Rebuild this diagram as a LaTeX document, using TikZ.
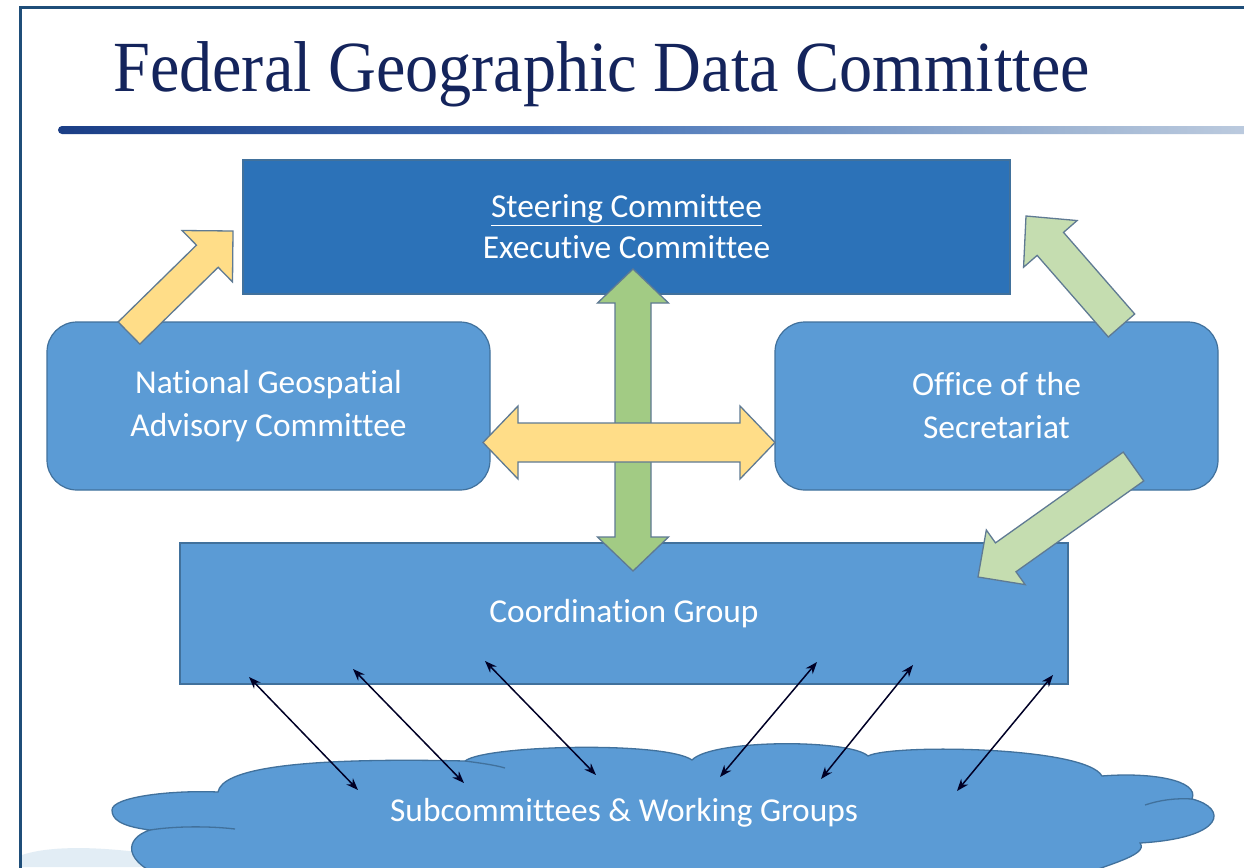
\documentclass[tikz,border=0pt]{standalone}
\usepackage{fontspec}
\setmainfont{Liberation Serif}
\newfontfamily\bodyfont[Ligatures=NoCommon]{Carlito}
\usetikzlibrary{calc,arrows.meta}
\definecolor{boxblue}{HTML}{5B9BD5}
\definecolor{steerblue}{HTML}{2C72B8}
\definecolor{edgeblue}{HTML}{41719C}
\definecolor{titlenavy}{HTML}{14245C}
\definecolor{framenavy}{HTML}{1F4E79}
\definecolor{yelfill}{HTML}{FFDD88}
\definecolor{greenV}{HTML}{A2CB84}
\definecolor{greenL}{HTML}{C5DDB0}
\definecolor{arredge}{HTML}{5F7A93}
\definecolor{swoosh}{HTML}{E2EDF5}
\definecolor{bar1}{HTML}{10286A}
\definecolor{bar2}{HTML}{1B3E86}
\definecolor{bar3}{HTML}{3E6DB5}
\definecolor{bar4}{HTML}{A3B8D4}
\definecolor{bar5}{HTML}{E3E8EF}
\pgfdeclarehorizontalshading{titlebar}{100bp}{color(0bp)=(bar1); color(25bp)=(bar2); color(45bp)=(bar3); color(68bp)=(bar4); color(86bp)=(bar5); color(100bp)=(white)}
\newcommand{\blockarr}[6]{%
  \coordinate (bhA) at ($(#3)!#6!(#2)$);
  \draw[#1] ($(#2)!#4!90:(#3)$) -- ($(bhA)!#4!90:(#3)$) -- ($(bhA)!#5!90:(#3)$) -- (#3)
    -- ($(bhA)!#5!-90:(#3)$) -- ($(bhA)!#4!-90:(#3)$) -- ($(#2)!#4!-90:(#3)$) -- cycle;}
\newcommand{\dblarr}[6]{%
  \coordinate (dbA) at ($(#2)!#6!(#3)$);
  \coordinate (dbB) at ($(#3)!#6!(#2)$);
  \draw[#1] (#2) -- ($(dbA)!#5!90:(#3)$) -- ($(dbA)!#4!90:(#3)$) -- ($(dbB)!#4!90:(#3)$)
    -- ($(dbB)!#5!90:(#3)$) -- (#3) -- ($(dbB)!#5!-90:(#3)$) -- ($(dbB)!#4!-90:(#3)$)
    -- ($(dbA)!#4!-90:(#3)$) -- ($(dbA)!#5!-90:(#3)$) -- cycle;}
\tikzset{
  box/.style={draw=edgeblue, line width=1.2pt, fill=boxblue, text=white, align=center, inner sep=0pt,
    font=\bodyfont\fontsize{33.4}{43}\selectfont},
  yelarrow/.style={draw=arredge, line width=1.3pt, fill=yelfill, line join=miter},
  greenVarrow/.style={draw=arredge, line width=1.3pt, fill=greenV, line join=miter},
  greenLarrow/.style={draw=arredge, line width=1.3pt, fill=greenL, line join=miter},
  thinarr/.style={draw=black!85!blue, line width=1.5pt, {Stealth[length=12pt,width=9pt]}-{Stealth[length=12pt,width=9pt]}},
  cloudshape/.style={draw=edgeblue, line width=1.3pt, fill=boxblue},
  cloudline/.style={draw=edgeblue, line width=1.3pt},
}
\begin{document}
\begin{tikzpicture}[x=1pt,y=1pt]
\useasboundingbox (0,0) rectangle (1244,-867);
\clip (0,0) rectangle (1244,-867);
\fill[white] (0,0) rectangle (1244,-867);
% frame
\draw[framenavy, line width=3pt] (20,-870) -- (20,-8) -- (1250,-8);
% bottom-left swoosh
\fill[swoosh] (22,-867) -- (22,-855) .. controls (60,-842) and (140,-848) .. (220,-867) -- cycle;
% title
\node[anchor=base west, inner sep=0pt, text=titlenavy, font=\fontsize{72}{72}\selectfont, xscale=0.92] (title) at (113,-92) {Federal Geographic Data Committee};
\shade[shading=titlebar, rounded corners=4pt] (58,-126) rectangle (1250,-134);
% boxes
\node[box, fill=steerblue, minimum width=767pt, minimum height=134pt, font=\bodyfont\fontsize{33.4}{41}\selectfont] (steer) at (626.5,-227) {\underline{Steering Committee}\\Executive Committee};
\node[box, rounded corners=30pt, minimum width=443pt, minimum height=168pt] (ngac) at (268.5,-406) {National Geospatial\\Advisory Committee};
\node[box, rounded corners=30pt, minimum width=443pt, minimum height=168pt] (office) at (996.5,-406) {Office of the\\Secretariat};
\node[box, minimum width=888pt, minimum height=141pt] (coord) at (624,-613.5) {Coordination Group};
% cloud
\draw[cloudshape] (112,-810)
  .. controls (112,-797) and (170,-790) .. (218,-792)
  .. controls (222,-770) and (290,-757) .. (465,-761)
  .. controls (485,-745) and (665,-741) .. (692,-760)
  .. controls (712,-739) and (850,-739) .. (868,-756)
  .. controls (890,-744) and (1085,-746) .. (1102,-776)
  .. controls (1150,-772) and (1200,-780) .. (1192,-799)
  .. controls (1228,-808) and (1226,-838) .. (1140,-843)
  .. controls (1150,-856) and (1100,-866) .. (1070,-880)
  -- (170,-880)
  .. controls (120,-862) and (125,-838) .. (150,-830)
  .. controls (118,-826) and (112,-818) .. (112,-810) -- cycle;
\draw[cloudline] (150,-830) .. controls (175,-826) and (210,-826) .. (235,-829);
\draw[cloudline] (465,-761) .. controls (480,-763) and (495,-765) .. (505,-768);
\draw[cloudline] (1145,-805) .. controls (1160,-800) and (1175,-798) .. (1192,-799);
\node[text=white, font=\bodyfont\fontsize{33.4}{38}\selectfont] (cloud) at (624,-813) {Subcommittees \& Working Groups};
% block arrows
\coordinate (ytail) at (129,-333);
\coordinate (ytip) at (233,-231);
\blockarr{yelarrow}{ytail}{ytip}{15.5pt}{36pt}{36pt}
\coordinate (gtail) at (1121.5,-325.5);
\coordinate (gtip) at (1026,-216);
\blockarr{greenLarrow}{gtail}{gtip}{17.5pt}{35.5pt}{37pt}
\coordinate (g2tail) at (1133.5,-466.5);
\coordinate (g2tip) at (978,-577);
\blockarr{greenLarrow}{g2tail}{g2tip}{17.7pt}{33.5pt}{34pt}
\coordinate (vtop) at (633,-269);
\coordinate (vbot) at (633,-571);
\dblarr{greenVarrow}{vtop}{vbot}{18pt}{35.5pt}{34pt}
\coordinate (hleft) at (483,-442.5);
\coordinate (hright) at (775,-442.5);
\dblarr{yelarrow}{hleft}{hright}{19.5pt}{36.5pt}{35pt}
% thin arrows between coordination group and cloud
\coordinate (a1) at (249,-677); \coordinate (b1) at (358,-790);
\coordinate (a2) at (353,-669); \coordinate (b2) at (464,-783);
\coordinate (a3) at (485,-661); \coordinate (b3) at (596,-775);
\coordinate (a4) at (817,-662); \coordinate (b4) at (720,-777);
\coordinate (a5) at (913,-665); \coordinate (b5) at (821,-779);
\coordinate (a6) at (1053,-675); \coordinate (b6) at (957,-791);
\foreach \i in {1,...,6} \draw[thinarr] (a\i) -- (b\i);
\end{tikzpicture}
\end{document}
